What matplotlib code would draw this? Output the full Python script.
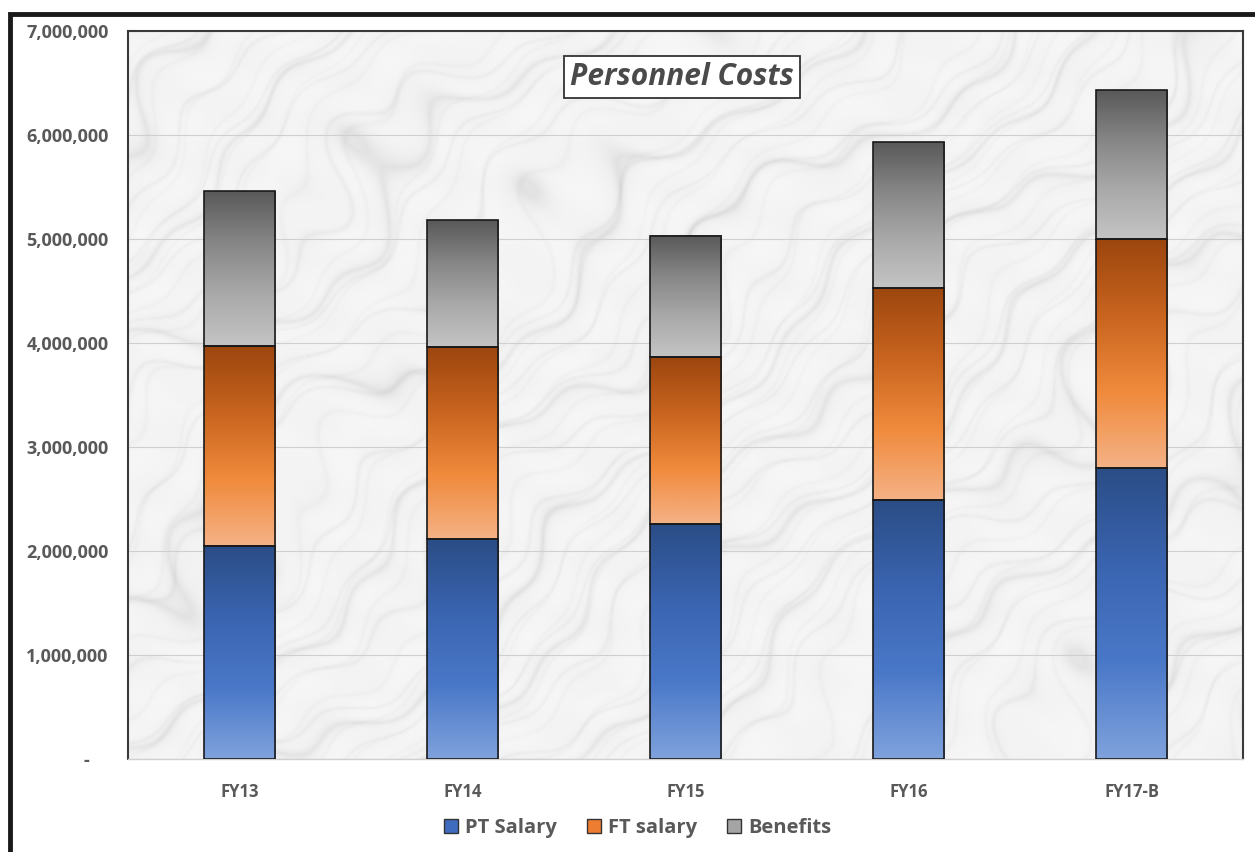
import numpy as np
import matplotlib
matplotlib.use("Agg")
import matplotlib.pyplot as plt
from matplotlib.colors import LinearSegmentedColormap
from matplotlib.patches import Patch, Rectangle
from matplotlib.ticker import FuncFormatter

# ---------------- data ----------------
years = ["FY13", "FY14", "FY15", "FY16", "FY17-B"]
pt_salary = [2050000, 2115000, 2260000, 2490000, 2800000]
ft_salary = [1920000, 1845000, 1605000, 2040000, 2200000]
benefits = [1490000, 1220000, 1165000, 1400000, 1430000]

series_names = ["PT Salary", "FT salary", "Benefits"]

# gradient colours, top -> bottom
grad_colors = [
    ["#2b4d86", "#3a64b0", "#4a78c8", "#7fa2dc"],
    ["#9c460f", "#c8641f", "#f08a3c", "#f5b286"],
    ["#595959", "#868686", "#a9a9a9", "#c4c4c4"],
]
mid_colors = ["#3f6cbf", "#ed7d31", "#a5a5a5"]
txt_gray = "#595959"

plt.rcParams["font.family"] = ["Open Sans", "DejaVu Sans"]

fig = plt.figure(figsize=(12.55, 8.52), dpi=100)
ax = fig.add_axes([128 / 1255, 1 - 759 / 852, (1243 - 128) / 1255, (759 - 31) / 852])

# marble-ish background (deterministic pattern, streaks running "/" )
ny, nx = 450, 700
yy, xx = np.mgrid[0:1:ny * 1j, 0:1:nx * 1j]
warp = (0.9 * np.sin(7 * xx + 4 * yy) + 0.6 * np.sin(13 * yy - 5 * xx + 1.3)
        + 0.35 * np.sin(29 * xx + 17 * yy + 0.7) + 0.2 * np.sin(53 * xx - 31 * yy + 2.1))
s = xx * 1.0 + yy * 0.75
v1 = np.sin(22 * s + 1.6 * warp)
v2 = np.sin(47 * s + 2.5 * warp + 1.0)
v3 = np.sin(90 * (xx * 0.9 + yy * 0.5) + 3.5 * warp)
mott = 0.5 * np.sin(35 * xx + 60 * yy + 2 * warp) * np.sin(70 * xx - 20 * yy + warp)
veins = (np.exp(-np.abs(v1) * 9) * 0.07 + np.exp(-np.abs(v2) * 12) * 0.05
         + np.exp(-np.abs(v3) * 8) * 0.03 + 0.015 * (mott + 0.5))
marble = np.clip(0.965 - veins, 0, 1)
ax.imshow(marble, cmap="gray", vmin=0, vmax=1, extent=(-0.5, 4.5, 0, 7000000),
          aspect="auto", zorder=0, interpolation="bicubic")

x = np.arange(len(years))
width = 0.32
bottoms = np.zeros(len(years))
for vals, cols in zip([pt_salary, ft_salary, benefits], grad_colors):
    bars = ax.bar(x, vals, width, bottom=bottoms, facecolor="none",
                  edgecolor="#1a1a1a", linewidth=1.2, zorder=3)
    cmap = LinearSegmentedColormap.from_list("g", cols[::-1])
    grad = np.linspace(0, 1, 256).reshape(-1, 1)
    for b in bars:
        x0, y0 = b.get_x(), b.get_y()
        ax.imshow(grad, cmap=cmap, origin="lower", aspect="auto", zorder=2,
                  extent=(x0, x0 + b.get_width(), y0, y0 + b.get_height()))
    bottoms += np.array(vals)

ax.set_xlim(-0.5, 4.5)
ax.set_ylim(0, 7000000)
ax.set_yticks(np.arange(0, 7000001, 1000000))
ax.yaxis.set_major_formatter(FuncFormatter(lambda v, p: "-    " if v == 0 else f"{int(v):,}"))
ax.set_xticks(x)
ax.set_xticklabels(years)
ax.grid(axis="y", color="#cfcfcf", linewidth=0.8, zorder=1)
ax.set_axisbelow(True)
ax.tick_params(axis="both", length=0, colors=txt_gray)
ax.tick_params(axis="y", pad=14)
ax.tick_params(axis="x", pad=17)
for lab in ax.get_yticklabels():
    lab.set_fontsize(13)
    lab.set_fontweight("bold")
for lab in ax.get_xticklabels():
    lab.set_fontsize(12)
    lab.set_fontweight("bold")

for s_ in ["left", "top", "right"]:
    ax.spines[s_].set_color("#3a3a3a")
    ax.spines[s_].set_linewidth(1.5)
ax.spines["bottom"].set_color("#d0d0d0")
ax.spines["bottom"].set_linewidth(1.0)

# title in a box
ax.text(0.497, 0.937, "Personnel Costs", transform=ax.transAxes, ha="center", va="center",
        fontsize=21.5, fontweight="bold", fontstyle="italic", color="#4a4a4a", zorder=5,
        bbox=dict(boxstyle="square,pad=0.2", facecolor="white", edgecolor="#333333", linewidth=1.3))

# legend
handles = [Patch(facecolor=c, edgecolor="#333333", linewidth=1.0) for c in mid_colors]
leg = fig.legend(handles, series_names, loc="center", bbox_to_anchor=(0.508, 1 - 828 / 852),
                 ncol=3, frameon=False, fontsize=14.5, handlelength=0.7, handleheight=0.7,
                 handletextpad=0.35, columnspacing=1.5)
for t in leg.get_texts():
    t.set_color(txt_gray)
    t.set_fontweight("bold")

# outer black frame (top and left)
fig.add_artist(Rectangle((10 / 1255, -0.1), 1.2, 1 - 13.5 / 852 + 0.1, transform=fig.transFigure,
                         fill=False, edgecolor="#1a1a1a", linewidth=3.5))

fig.savefig("out.png", dpi=100)
